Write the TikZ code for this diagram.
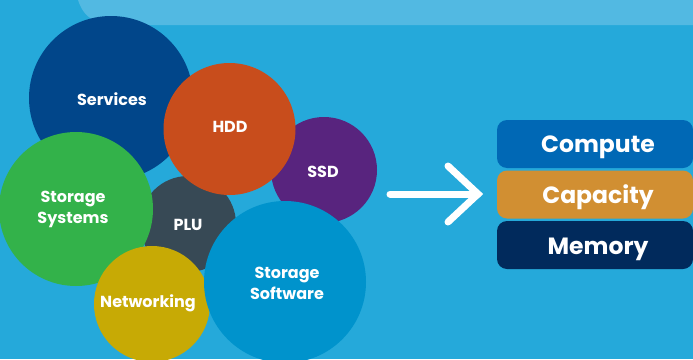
\documentclass[tikz,border=0pt]{standalone}
\usepackage{fontspec}
\setmainfont{Poppins}
\definecolor{bgblue}{HTML}{25A9DA}
\definecolor{bandblue}{HTML}{52B9E2}
\definecolor{cServices}{HTML}{01468A}
\definecolor{cHDD}{HTML}{C84D1C}
\definecolor{cSSD}{HTML}{58247E}
\definecolor{cGreen}{HTML}{33B24A}
\definecolor{cPLU}{HTML}{374955}
\definecolor{cNet}{HTML}{C7AA05}
\definecolor{cSoft}{HTML}{0093CC}
\definecolor{cCompute}{HTML}{0068B5}
\definecolor{cCapacity}{HTML}{D18F32}
\definecolor{cMemory}{HTML}{012A5C}
\begin{document}
\begin{tikzpicture}[x=1pt,y=-1pt,
  bubble/.style={circle,inner sep=0pt,text=white,font=\fontsize{16}{21}\selectfont\bfseries,align=center},
  tag/.style={rounded corners=10pt,minimum width=196pt,minimum height=48pt,inner sep=0pt,text=white,font=\fontsize{23.5}{26}\selectfont\bfseries},
  arrowline/.style={draw=white,line width=7pt,line cap=round,line join=miter}]
\fill[bgblue] (0,0) rectangle (693,359);
\useasboundingbox (0,0) rectangle (693,359);
\fill[bandblue] (693,0) -- (78,0) .. controls (84,18) and (95,25) .. (120,25) -- (693,25) -- cycle;
\node[bubble,fill=cServices,minimum size=164pt] (services) at (111,98) {};
\node[bubble,fill=cPLU,minimum size=96pt] (plu) at (188,224) {};
\node[bubble,fill=cGreen,minimum size=154pt] (storsys) at (76,209) {};
\node[bubble,fill=cSSD,minimum size=106pt] (ssd) at (324,170) {};
\node[bubble,fill=cHDD,minimum size=132pt] (hdd) at (229.5,129) {};
\node[bubble,fill=cNet,minimum size=116pt] (net) at (152,304) {};
\node[bubble,fill=cSoft,minimum size=162pt] (soft) at (285,282) {};
\node[bubble] (tServices) at (112,99) {Services};
\node[bubble] (tHDD) at (230,127) {HDD};
\node[bubble] (tSSD) at (323,172) {SSD};
\node[bubble] (tStorSys) at (73,209) {Storage\\Systems};
\node[bubble] (tPLU) at (188,225) {PLU};
\node[bubble] (tNet) at (148,303) {Networking};
\node[bubble] (tSoft) at (287,283) {Storage\\Software};
\node[tag,fill=cCompute] (compute) at (595,144) {};
\node[tag,fill=cCapacity] (capacity) at (595,194.5) {};
\node[tag,fill=cMemory] (memory) at (595,245) {};
\node[tag] (tCompute) at (598,147) {Compute};
\node[tag] (tCapacity) at (598,197.5) {Capacity};
\node[tag] (tMemory) at (598,249) {Memory};
\coordinate (a0) at (390,194);
\coordinate (a1) at (478,194);
\draw[arrowline] (a0) -- (a1);
\draw[arrowline] (448,166) -- (a1) -- (448,222);
\end{tikzpicture}
\end{document}
